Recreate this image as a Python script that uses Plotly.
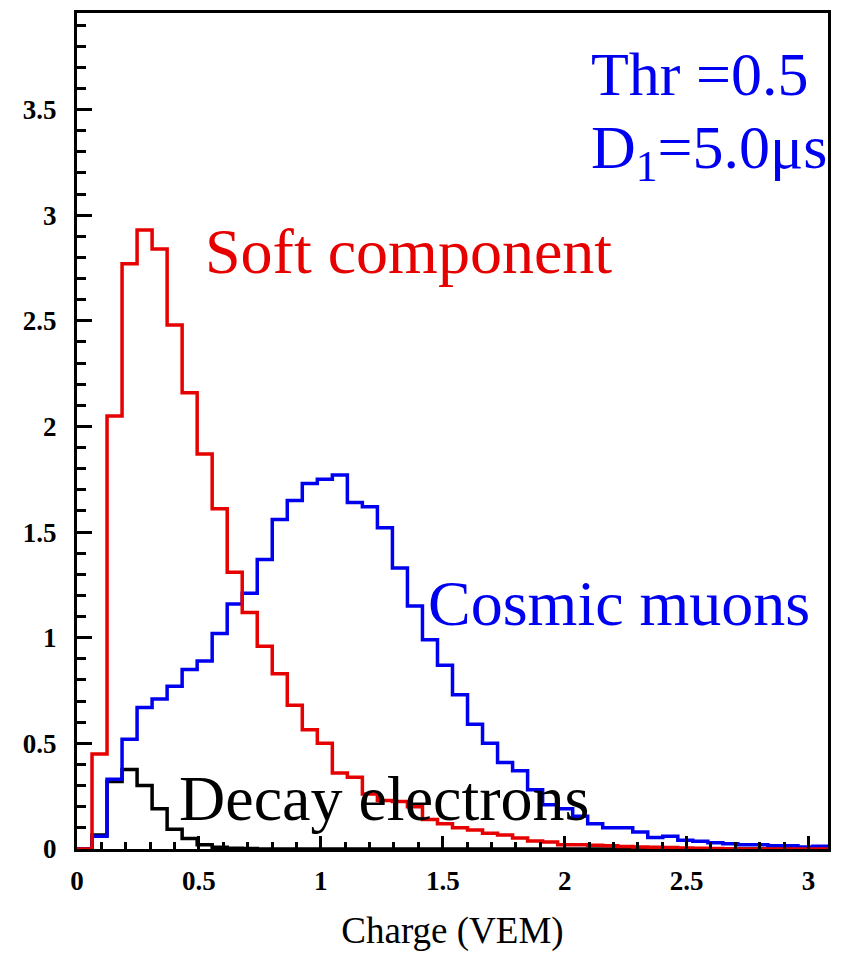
import numpy as np
import plotly.graph_objects as go

# Histogram binning (charge in VEM)
x_min, x_max, n_bins = 0.0, 3.08, 50

# Bin contents for each component
soft_component = [
    0.0, 0.45, 2.05, 2.77, 2.93, 2.84, 2.48, 2.16, 1.87, 1.61,
    1.31, 1.12, 0.96, 0.83, 0.68, 0.565, 0.50, 0.36, 0.34, 0.26,
    0.23, 0.225, 0.20, 0.14, 0.12, 0.10, 0.09, 0.075, 0.066, 0.052,
    0.038, 0.033, 0.02, 0.02, 0.018, 0.015, 0.012, 0.01, 0.008, 0.007,
    0.005, 0.003, 0.002, 0.001, 0.0, 0.0, 0.0, 0.0, 0.0, 0.0,
]
cosmic_muons = [
    0.0, 0.06, 0.33, 0.52, 0.67, 0.71, 0.77, 0.85, 0.89, 1.02,
    1.16, 1.21, 1.37, 1.56, 1.65, 1.73, 1.75, 1.77, 1.64, 1.62,
    1.52, 1.33, 1.15, 0.99, 0.87, 0.73, 0.59, 0.50, 0.41, 0.37,
    0.28, 0.21, 0.19, 0.155, 0.12, 0.10, 0.10, 0.08, 0.055, 0.06,
    0.042, 0.037, 0.03, 0.025, 0.02, 0.02, 0.015, 0.015, 0.01, 0.013,
]
decay_electrons = [
    0.0, 0.066, 0.32, 0.376, 0.30, 0.19, 0.094, 0.05, 0.02, 0.008,
    0.004, 0.002, 0.0, 0.0, 0.0, 0.0, 0.0, 0.0, 0.0, 0.0,
    0.0, 0.0, 0.0, 0.0, 0.0, 0.0, 0.0, 0.0, 0.0, 0.0,
    0.0, 0.0, 0.0, 0.0, 0.0, 0.0, 0.0, 0.0, 0.0, 0.0,
    0.0, 0.0, 0.0, 0.0, 0.0, 0.0, 0.0, 0.0, 0.0, 0.0,
]

y_max = 3.957
RED = "#e60000"
BLUE = "#0000f0"
SERIF = "Liberation Serif, Times New Roman, serif"

edges = np.linspace(x_min, x_max, n_bins + 1)


def step_trace(values, color):
    vals = list(values)
    return go.Scatter(
        x=edges,
        y=vals + [vals[-1]],
        mode="lines",
        line=dict(shape="hv", color=color, width=3.5),
        hoverinfo="skip",
        showlegend=False,
    )


fig = go.Figure()
fig.add_trace(step_trace(decay_electrons, "black"))
fig.add_trace(step_trace(cosmic_muons, BLUE))
fig.add_trace(step_trace(soft_component, RED))

big = 64
fig.add_annotation(x=0.515, y=2.83, text="Soft component", showarrow=False,
                   xanchor="left", yanchor="middle",
                   font=dict(family=SERIF, size=big, color=RED))
fig.add_annotation(x=1.43, y=1.16, text="Cosmic muons", showarrow=False,
                   xanchor="left", yanchor="middle",
                   font=dict(family=SERIF, size=big, color=BLUE))
fig.add_annotation(x=0.41, y=0.24, text="Decay electrons", showarrow=False,
                   xanchor="left", yanchor="middle",
                   font=dict(family=SERIF, size=big, color="black"))
fig.add_annotation(x=2.10, y=3.67, text="Thr =0.5", showarrow=False,
                   xanchor="left", yanchor="middle",
                   font=dict(family=SERIF, size=62, color=BLUE))
fig.add_annotation(x=2.10, y=3.30, text="D<sub>1</sub>=5.0μs", showarrow=False,
                   xanchor="left", yanchor="middle",
                   font=dict(family=SERIF, size=62, color=BLUE))

tick_font = dict(family=SERIF, size=27, color="black", weight="bold")

fig.update_xaxes(
    range=[x_min, x_max],
    dtick=0.5, tick0=0,
    ticks="inside", ticklen=13, tickwidth=3, tickcolor="black",
    minor=dict(dtick=0.1, tick0=0, ticks="inside", ticklen=7,
               tickwidth=3, tickcolor="black", showgrid=False),
    showline=True, linewidth=3, linecolor="black", mirror=True,
    showgrid=False, zeroline=False,
    tickfont=tick_font, ticklabelstandoff=6,
    title=dict(text="Charge (VEM)", standoff=22,
               font=dict(family=SERIF, size=37, color="black")),
)
fig.update_yaxes(
    range=[0, y_max],
    dtick=0.5, tick0=0,
    ticks="inside", ticklen=15, tickwidth=3, tickcolor="black",
    minor=dict(dtick=0.1, tick0=0, ticks="inside", ticklen=9,
               tickwidth=3, tickcolor="black", showgrid=False),
    showline=True, linewidth=3, linecolor="black", mirror=True,
    showgrid=False, zeroline=False,
    tickfont=tick_font, ticklabelstandoff=12,
)

fig.update_layout(
    width=841, height=954, autosize=False,
    margin=dict(l=77, r=10, t=10, b=103, pad=0),
    plot_bgcolor="white", paper_bgcolor="white",
    showlegend=False,
)

fig.write_html("out.html")
